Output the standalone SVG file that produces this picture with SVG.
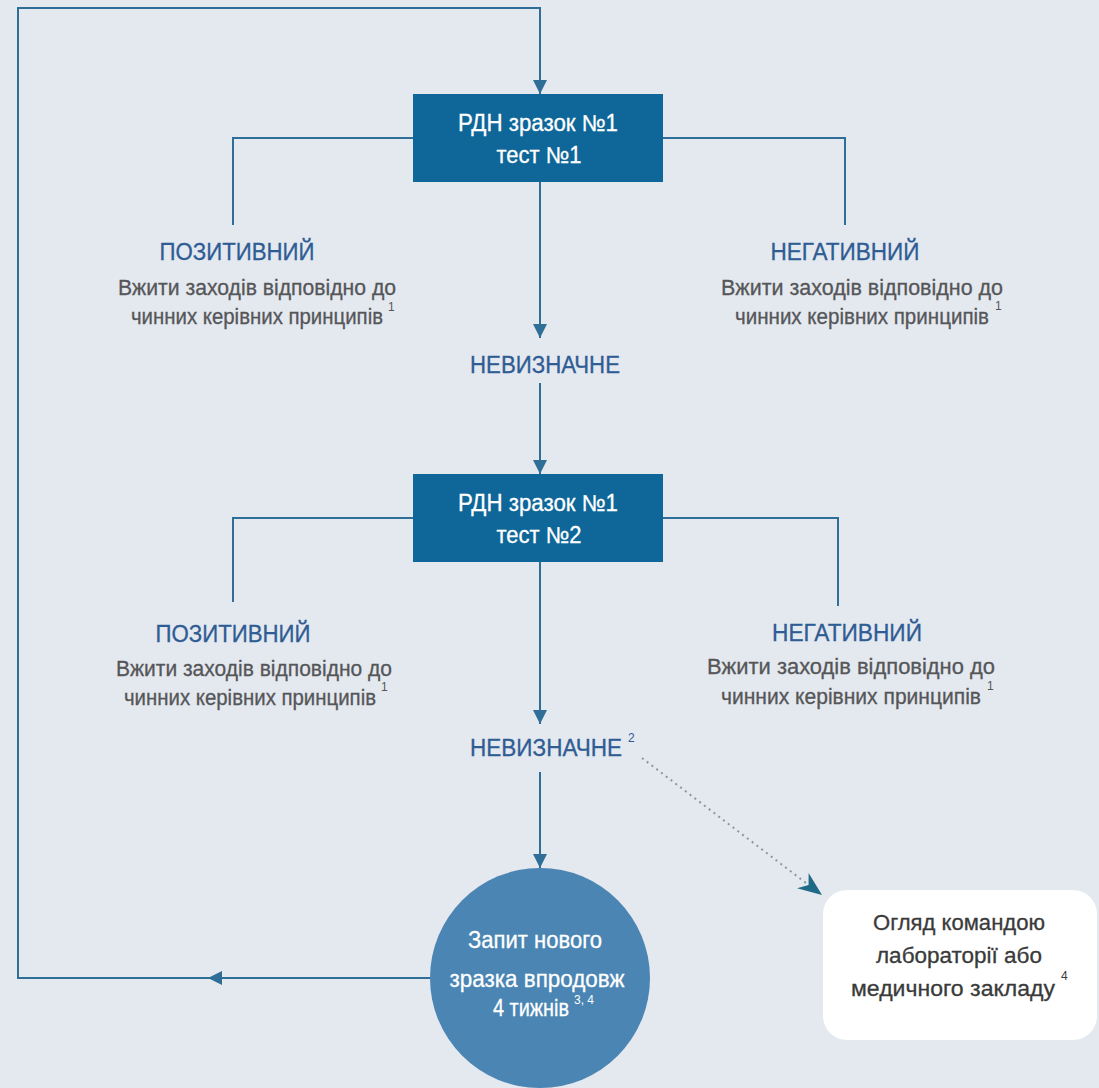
<svg xmlns="http://www.w3.org/2000/svg" width="1099" height="1088" viewBox="0 0 1099 1088">
<style>
.ln{fill:none;stroke:#2f6f97;stroke-width:2}
.dot{fill:none;stroke:#8a96a4;stroke-width:2;stroke-dasharray:2 4}
text{font-family:"Liberation Sans","DejaVu Sans",Arial,sans-serif}
.wb{fill:#ffffff;font-size:23px;text-anchor:middle;stroke:#ffffff;stroke-width:0.3}
.hd{fill:#2f5c94;font-size:23px;text-anchor:middle;stroke:#2f5c94;stroke-width:0.3}
.bd{fill:#555658;font-size:22px;text-anchor:middle;stroke:#555658;stroke-width:0.3}
.rk{fill:#3a3a3a;font-size:22px;text-anchor:middle;stroke:#3a3a3a;stroke-width:0.3}
.st{text-anchor:start}
.sup{font-size:12px;stroke-width:0}
</style>
<defs>
<marker id="ah" viewBox="0 0 10 10" refX="10" refY="5" markerWidth="14" markerHeight="14" markerUnits="userSpaceOnUse" orient="auto">
<path d="M0,0 L10,5 L0,10 z" fill="#2f6f97"/>
</marker>
<marker id="ah2" viewBox="0 0 10 10" refX="10" refY="5" markerWidth="24" markerHeight="24" markerUnits="userSpaceOnUse" orient="auto">
<path d="M0,1 L10,5 L0,9 L3,5 z" fill="#1f6a86"/>
</marker>
</defs>
<rect x="0" y="0" width="1099" height="1088" fill="#e4e8ef"/>

<g id="connectors">
<path class="ln" d="M430,978 L18,978 L18,8 L540,8 L540,94" marker-end="url(#ah)"/>
<path class="ln" d="M430,978 L208,978" marker-end="url(#ah)"/>
<path class="ln" d="M413,138 L233,138 L233,225"/>
<path class="ln" d="M663,138 L845,138 L845,225"/>
<path class="ln" d="M540,182 L540,338" marker-end="url(#ah)"/>
<path class="ln" d="M540,383 L540,474" marker-end="url(#ah)"/>
<path class="ln" d="M413,518 L233,518 L233,602"/>
<path class="ln" d="M663,518 L838,518 L838,606"/>
<path class="ln" d="M540,562 L540,724" marker-end="url(#ah)"/>
<path class="ln" d="M540,772 L540,868" marker-end="url(#ah)"/>
<path class="dot" d="M642,758 L806,883"/>
<path d="M800,878.4 L822,895" fill="none" stroke="none" marker-end="url(#ah2)"/>
</g>

<g id="box1">
<rect x="413" y="94" width="250" height="88" fill="#0e6798"/>
<text class="wb" x="538" y="131" textLength="160" lengthAdjust="spacingAndGlyphs">РДН зразок №1</text>
<text class="wb" x="539" y="163" textLength="85" lengthAdjust="spacingAndGlyphs">тест №1</text>
</g>

<g id="pos1">
<text class="hd" x="237" y="260" textLength="155" lengthAdjust="spacingAndGlyphs">ПОЗИТИВНИЙ</text>
<text class="bd" x="257" y="295" textLength="278" lengthAdjust="spacingAndGlyphs">Вжити заходів відповідно до</text>
<text class="bd st" x="131" y="324"><tspan textLength="252" lengthAdjust="spacingAndGlyphs">чинних керівних принципів</tspan><tspan class="sup" dx="5" dy="-13">1</tspan></text>
</g>

<g id="neg1">
<text class="hd" x="845" y="260" textLength="149" lengthAdjust="spacingAndGlyphs">НЕГАТИВНИЙ</text>
<text class="bd" x="862" y="295" textLength="282" lengthAdjust="spacingAndGlyphs">Вжити заходів відповідно до</text>
<text class="bd st" x="735" y="324"><tspan textLength="254" lengthAdjust="spacingAndGlyphs">чинних керівних принципів</tspan><tspan class="sup" dx="6" dy="-14">1</tspan></text>
</g>

<g id="ind1">
<text class="hd" x="545" y="373" textLength="150" lengthAdjust="spacingAndGlyphs">НЕВИЗНАЧНЕ</text>
</g>

<g id="box2">
<rect x="413" y="474" width="250" height="88" fill="#0e6798"/>
<text class="wb" x="538" y="511" textLength="160" lengthAdjust="spacingAndGlyphs">РДН зразок №1</text>
<text class="wb" x="539" y="543" textLength="85" lengthAdjust="spacingAndGlyphs">тест №2</text>
</g>

<g id="pos2">
<text class="hd" x="233" y="642" textLength="155" lengthAdjust="spacingAndGlyphs">ПОЗИТИВНИЙ</text>
<text class="bd" x="254" y="676" textLength="276" lengthAdjust="spacingAndGlyphs">Вжити заходів відповідно до</text>
<text class="bd st" x="124" y="705"><tspan textLength="252" lengthAdjust="spacingAndGlyphs">чинних керівних принципів</tspan><tspan class="sup" dx="5" dy="-14">1</tspan></text>
</g>

<g id="neg2">
<text class="hd" x="847" y="641" textLength="150" lengthAdjust="spacingAndGlyphs">НЕГАТИВНИЙ</text>
<text class="bd" x="851" y="674" textLength="288" lengthAdjust="spacingAndGlyphs">Вжити заходів відповідно до</text>
<text class="bd st" x="721" y="704"><tspan textLength="260" lengthAdjust="spacingAndGlyphs">чинних керівних принципів</tspan><tspan class="sup" dx="6" dy="-14">1</tspan></text>
</g>

<g id="ind2">
<text class="hd st" x="470" y="756"><tspan textLength="152" lengthAdjust="spacingAndGlyphs">НЕВИЗНАЧНЕ</tspan><tspan class="sup" dx="6" dy="-14">2</tspan></text>
</g>

<g id="circle">
<circle cx="540" cy="978" r="110" fill="#4a85b3"/>
<text class="wb" x="535" y="948" textLength="134" lengthAdjust="spacingAndGlyphs">Запит нового</text>
<text class="wb" x="537" y="987" textLength="175" lengthAdjust="spacingAndGlyphs">зразка впродовж</text>
<text class="wb st" x="493" y="1016"><tspan textLength="76" lengthAdjust="spacingAndGlyphs">4 тижнів</tspan><tspan class="sup" dx="5" dy="-12">3, 4</tspan></text>
</g>

<g id="review">
<rect x="823" y="890" width="274" height="150" rx="24" fill="#ffffff"/>
<text class="rk" x="959" y="930" textLength="172" lengthAdjust="spacingAndGlyphs">Огляд командою</text>
<text class="rk" x="959" y="963" textLength="166" lengthAdjust="spacingAndGlyphs">лабораторії або</text>
<text class="rk st" x="851" y="996"><tspan textLength="204" lengthAdjust="spacingAndGlyphs">медичного закладу</tspan><tspan class="sup" dx="6" dy="-16">4</tspan></text>
</g>
</svg>
